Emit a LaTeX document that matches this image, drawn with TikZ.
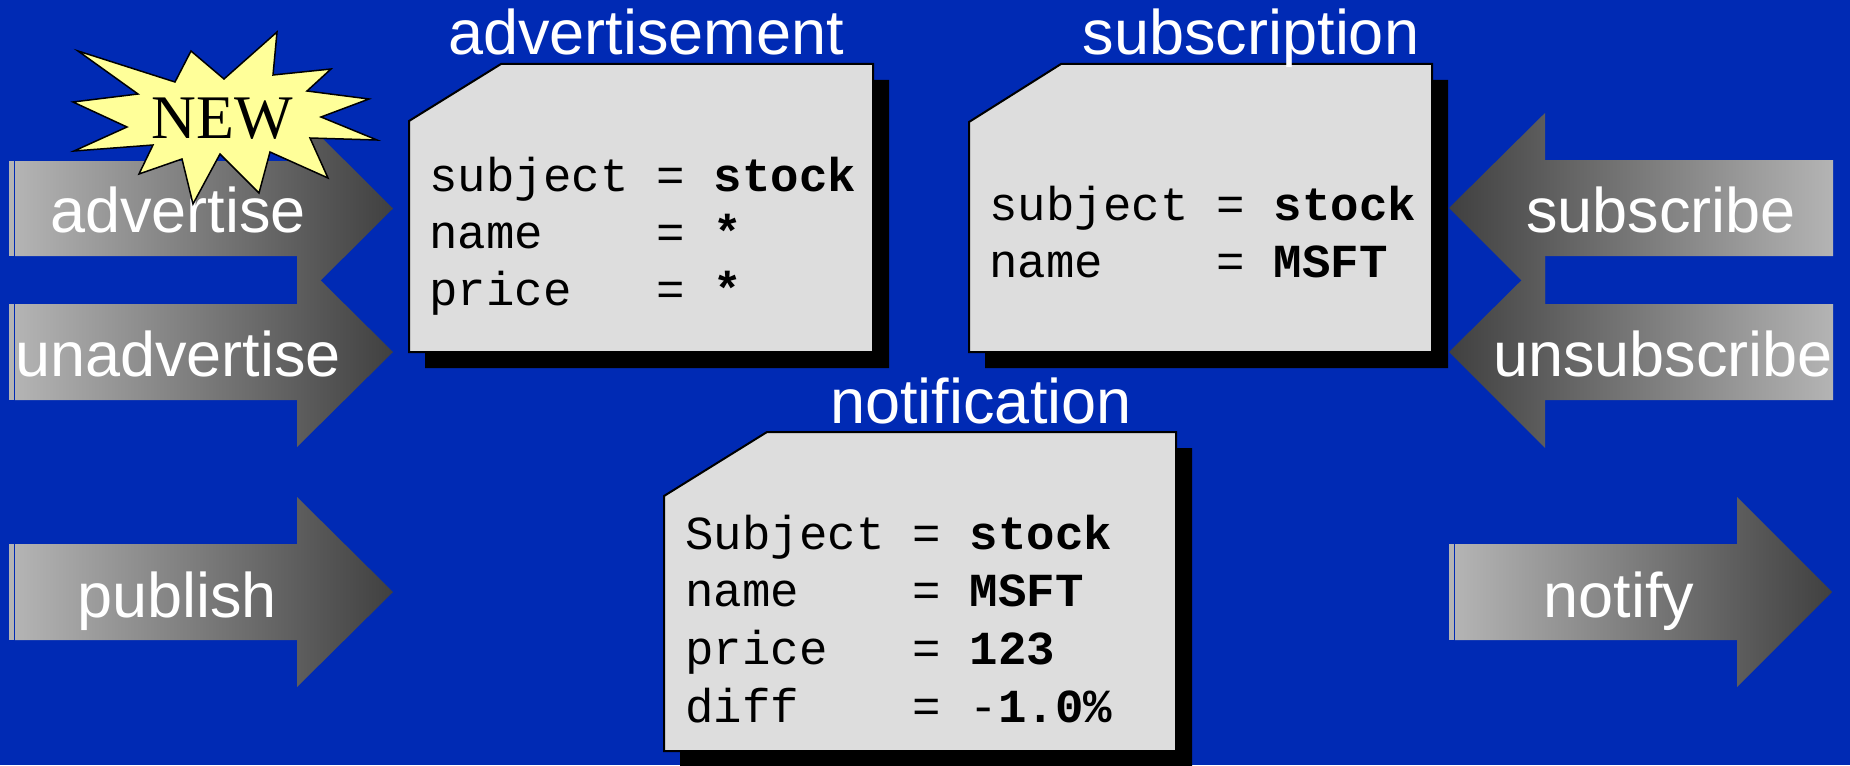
\documentclass[tikz,border=0pt]{standalone}
\usepackage{fontspec}
\setmainfont{Liberation Serif}
\setsansfont{Liberation Sans}
\setmonofont{Liberation Mono}
\usepackage{xcolor}
\definecolor{slideblue}{HTML}{002AB4}
\definecolor{cardgray}{HTML}{DDDDDD}
\definecolor{starfill}{HTML}{FFFF99}
\definecolor{blocklight}{HTML}{B4B4B4}
\definecolor{blockdark}{HTML}{404040}
\usetikzlibrary{shadows}

\begin{document}
\begin{tikzpicture}[
  x=0.5pt, y=-0.5pt,
  blockR/.style={left color=blocklight, right color=blockdark},
  blockL/.style={left color=blockdark, right color=blocklight},
  blockend/.style={fill=blocklight},
  blocklabel/.style={font=\sffamily\fontsize{31.5}{36}\selectfont, text=white,
                     anchor=base, inner sep=0pt},
  card/.style={fill=cardgray, draw=black, line width=1pt,
               drop shadow={shadow xshift=8pt, shadow yshift=-8pt,
                            opacity=1, fill=black}},
  field/.style={font=\ttfamily\fontsize{23.7}{28}\selectfont, anchor=base west,
                inner sep=0pt}
]
  \useasboundingbox (0,0) rectangle (1850,765);
  \fill[slideblue] (0,0) rectangle (1850,765);

  % block arrows, left side
  \fill[blockend] (9,161) rectangle (14,256);
  \shade[blockR] (15,161) -- (297,161) -- (297,113) -- (393,208.5) -- (297,304) -- (297,256) -- (15,256) -- cycle;
  \fill[blockend] (9,304) rectangle (14,400);
  \shade[blockR] (15,304) -- (297,304) -- (297,257) -- (393,352) -- (297,447) -- (297,400) -- (15,400) -- cycle;
  \fill[blockend] (9,544) rectangle (14,640);
  \shade[blockR] (15,544) -- (297,544) -- (297,497) -- (393,592) -- (297,687) -- (297,640) -- (15,640) -- cycle;

  % block arrows, right side
  \shade[blockL] (1449,208) -- (1545,113) -- (1545,160) -- (1833,160) -- (1833,256) -- (1545,256) -- (1545,304) -- cycle;
  \shade[blockL] (1449,352) -- (1545,257) -- (1545,304) -- (1833,304) -- (1833,400) -- (1545,400) -- (1545,448) -- cycle;
  \fill[blockend] (1449,544) rectangle (1454,640);
  \shade[blockR] (1455,544) -- (1737,544) -- (1737,497) -- (1832,592) -- (1737,687) -- (1737,640) -- (1455,640) -- cycle;

  \node[blocklabel] (advertise) at (178,232) {advertise};
  \node[blocklabel] (unadvertise) at (178,376) {unadvertise};
  \node[blocklabel] (publish) at (177,617) {publish};
  \node[blocklabel] (subscribe) at (1661,232) {subscribe};
  \node[blocklabel] (unsubscribe) at (1663,376) {unsubscribe};
  \node[blocklabel] (notify) at (1619,617) {notify};

  % the "NEW" burst
  \filldraw[fill=starfill, draw=black, line width=0.75pt]
    (277,32) -- (273,75) -- (331,69) -- (307,91) -- (369,99) -- (321,117)
    -- (377,140) -- (310,138) -- (328,178) -- (270,152) -- (259,193)
    -- (220,154) -- (193,204) -- (182,159) -- (139,174) -- (153,145)
    -- (74,151) -- (127,127) -- (73,102) -- (138,94) -- (78,51)
    -- (175,82) -- (191,51) -- (224,79) -- cycle;
  \node[font=\fontsize{31}{36}\selectfont, anchor=base, inner sep=0pt] (new) at (222,138) {NEW};

  % message cards
  \draw[card] (409,121) -- (501,64) -- (873,64) -- (873,352) -- (409,352) -- cycle;
  \draw[card] (969,122) -- (1061,64) -- (1432,64) -- (1432,352) -- (969,352) -- cycle;
  \draw[card] (664,496) -- (767,432) -- (1176,432) -- (1176,751) -- (664,751) -- cycle;

  \node[blocklabel] (adtitle) at (646,55) {advertisement};
  \node[blocklabel] (subtitle) at (1251,55) {subscription};
  \node[blocklabel] (notetitle) at (981,423) {notification};

  \node[field] (adsubject) at (429,191) {subject~=~\textbf{stock}};
  \node[field] (adname) at (429,248) {name~~~~=~\textbf{*}};
  \node[field] (adprice) at (429,305) {price~~~=~\textbf{*}};

  \node[field] (subsubject) at (989,220) {subject~=~\textbf{stock}};
  \node[field] (subname) at (989,277) {name~~~~=~\textbf{MSFT}};

  \node[field] (notesubject) at (685,549) {Subject~=~\textbf{stock}};
  \node[field] (notename) at (685,606) {name~~~~=~\textbf{MSFT}};
  \node[field] (noteprice) at (685,664) {price~~~=~\textbf{123}};
  \node[field] (notediff) at (685,722) {diff~~~~=~-\textbf{1.0\%}};
\end{tikzpicture}
\end{document}
